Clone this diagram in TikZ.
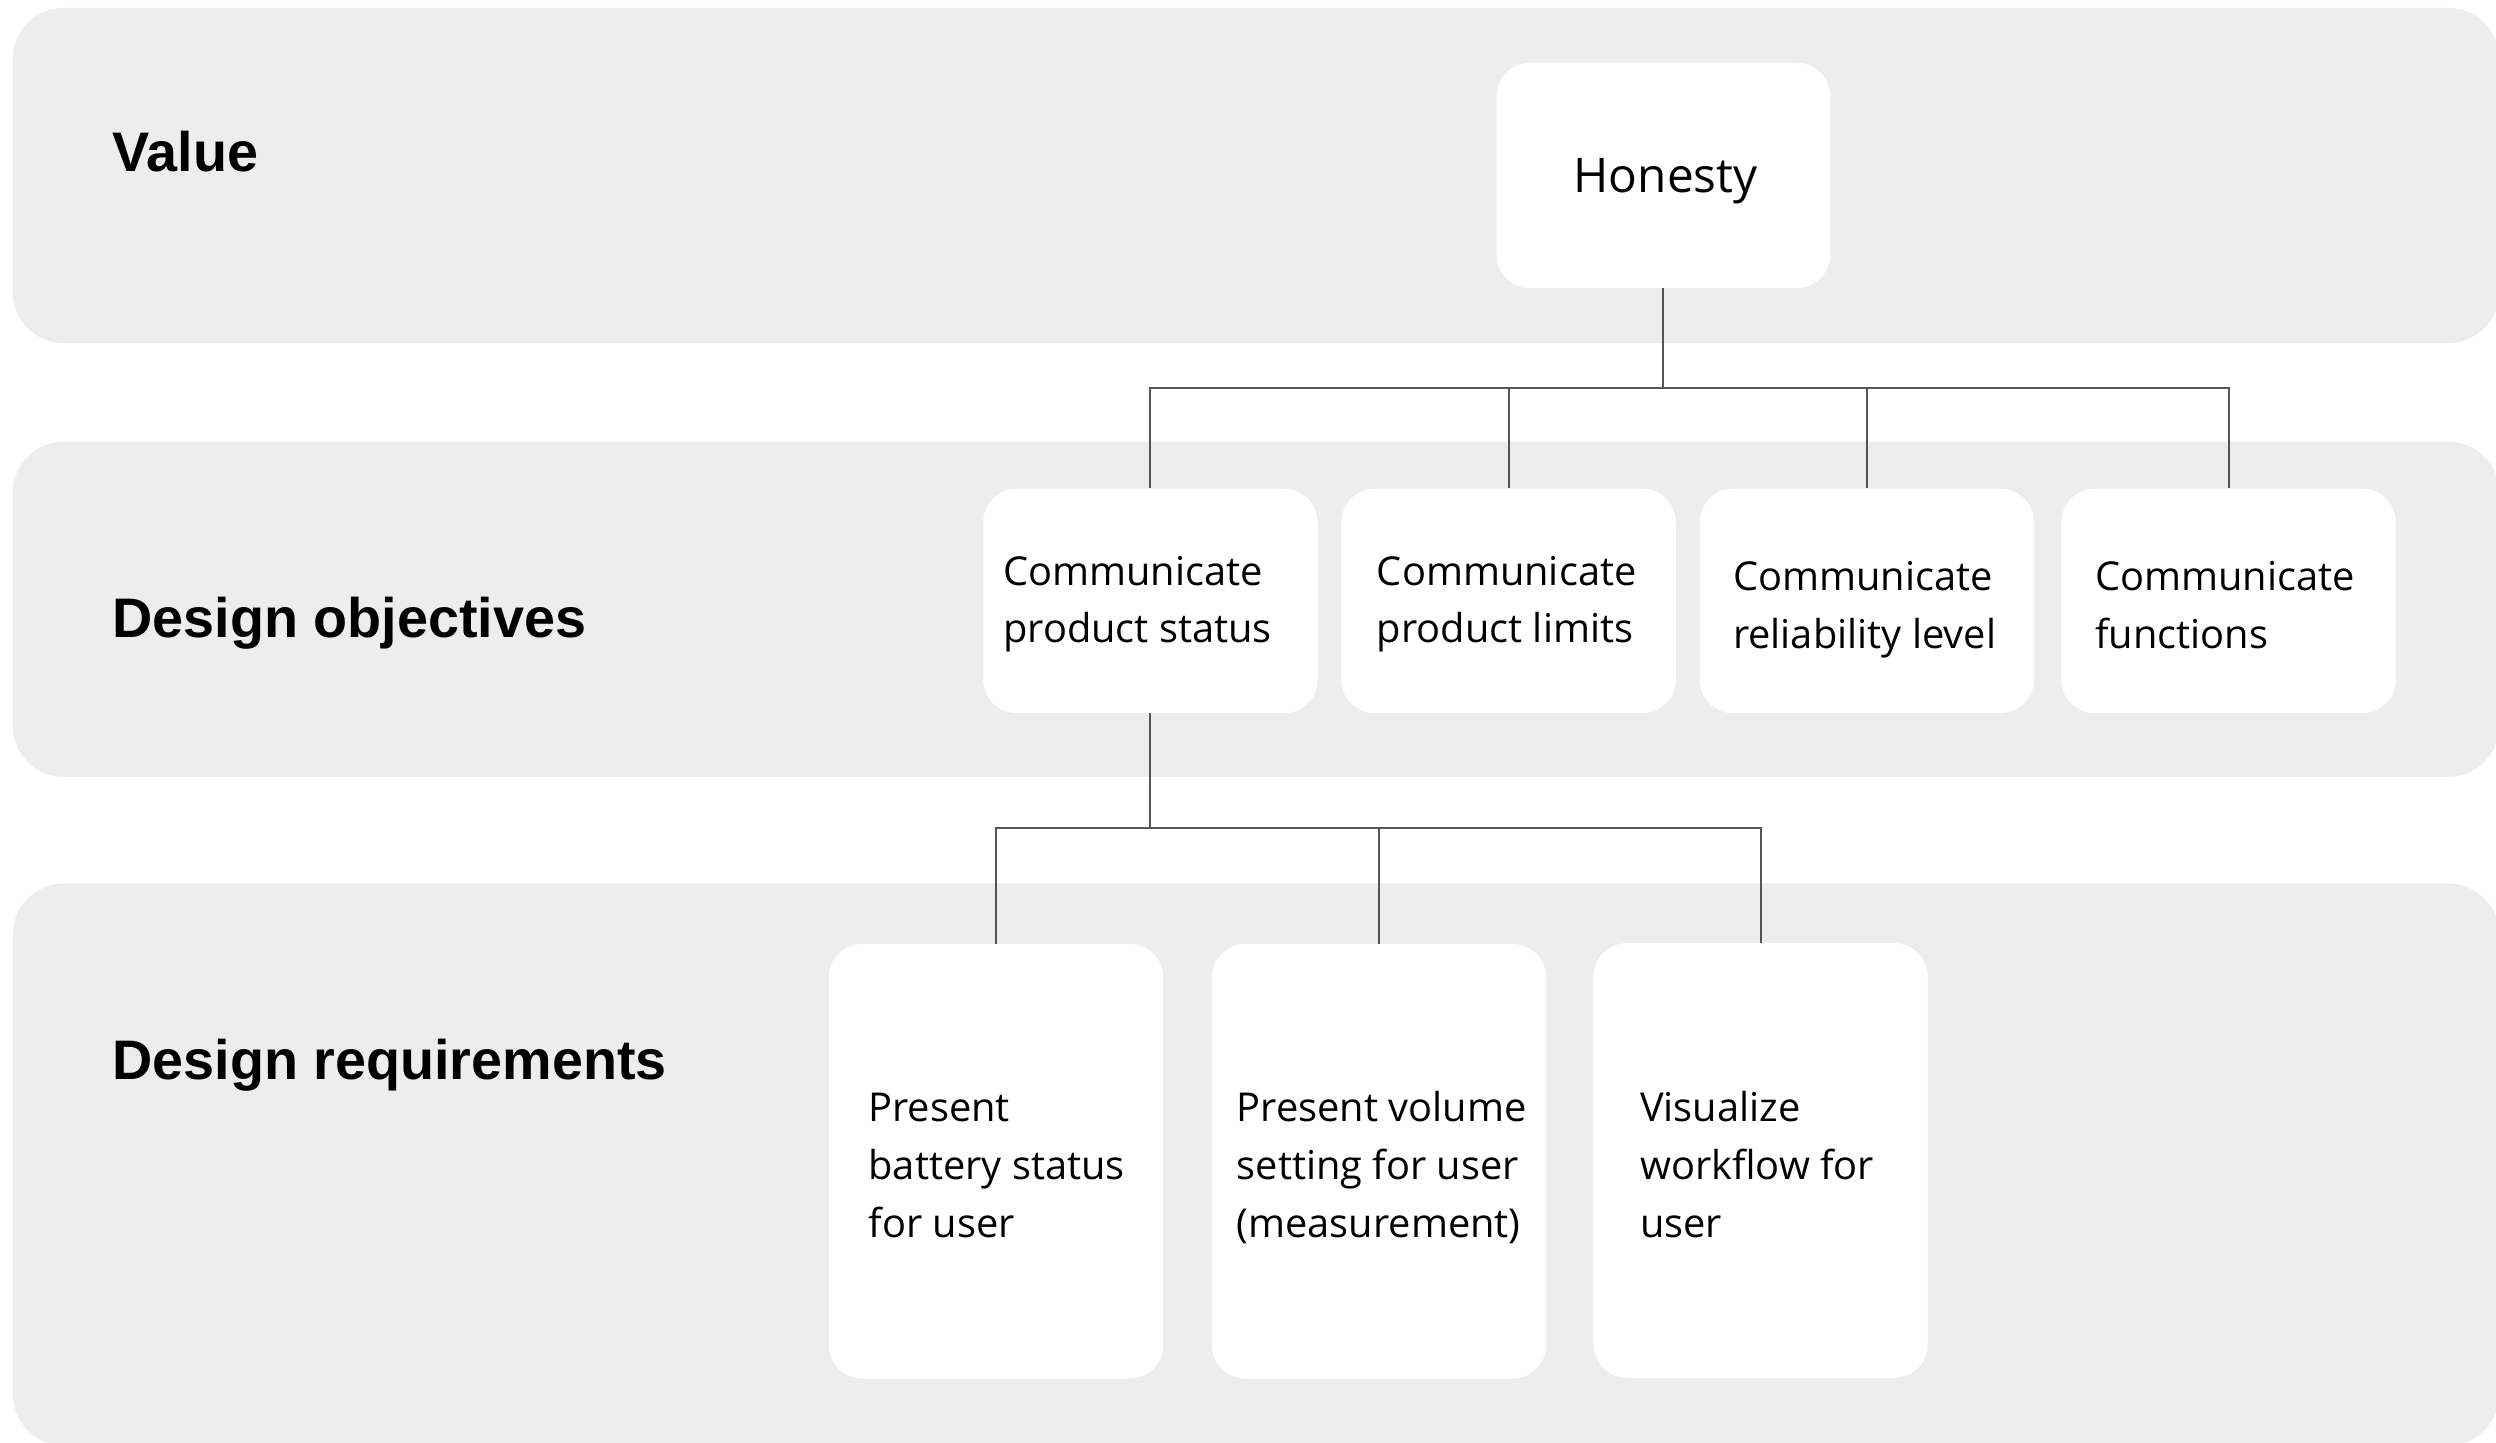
\documentclass[tikz,border=0pt]{standalone}
\usepackage{fontspec}
\setmainfont{Open Sans}
\newfontfamily\labelfont{Liberation Sans}
\usetikzlibrary{calc}
\definecolor{bandgray}{HTML}{EDEDED}
\definecolor{linegray}{HTML}{555555}
\tikzset{
  band/.style={fill=bandgray, draw=none, rounded corners=32pt},
  boxnode/.style={fill=white, draw=none, rounded corners=21pt, inner sep=0pt},
  objbox/.style={boxnode, minimum width=210pt, minimum height=141pt},
  reqbox/.style={boxnode, minimum width=210pt, minimum height=273pt},
  levellabel/.style={anchor=base west, inner sep=0pt, font=\labelfont\bfseries\fontsize{35}{40}\selectfont},
  boxtext/.style={anchor=base west, inner sep=0pt, align=left, font=\fontsize{25}{36.2}\selectfont},
  conn/.style={draw=linegray, line width=1.3pt}
}
\begin{document}
\begin{tikzpicture}[x=1pt, y=-1pt]
\useasboundingbox (0,0) rectangle (1568,906);
% bands
\path[band] (8,5) rectangle (1570,215.5);
\path[band] (8,277.5) rectangle (1570,488);
\path[band] (8,555) rectangle (1570,908);
% level labels
\node[levellabel] (lv) at (70.5,107.8) {Value};
\node[levellabel] (lo) at (70.5,400.7) {Design objectives};
\node[levellabel] (lr) at (70.5,678.2) {Design requirements};
% boxes
\node[boxnode, minimum width=209.5pt, minimum height=141.6pt] (hon) at (1044.9,110.2) {};
\node[objbox] (o1) at (722.7,377.5) {};
\node[objbox] (o2) at (947.7,377.5) {};
\node[objbox] (o3) at (1172.7,377.5) {};
\node[objbox] (o4) at (1400,377.5) {};
\node[reqbox] (r1) at (625.7,729.5) {};
\node[reqbox] (r2) at (866.3,729.5) {};
\node[reqbox] (r3) at (1106,729) {};
% texts (base anchor = baseline of last line)
\node[anchor=base west, inner sep=0pt, font=\fontsize{30}{36}\selectfont] (thon) at (988.4,121) {Honesty};
\node[boxtext] (to1) at (630,403.7) {Communicate\\product status};
\node[boxtext] (to2) at (864.8,403.7) {Communicate\\product limits};
\node[boxtext] (to3) at (1088.5,407.2) {Communicate\\reliability level};
\node[boxtext] (to4) at (1316,407.2) {Communicate\\functions};
\node[boxtext] (tr1) at (545.4,777.1) {Present\\battery status\\for user};
\node[boxtext] (tr2) at (776.7,777.1) {Present volume\\setting for user\\(measurement)};
\node[boxtext] (tr3) at (1030.2,777.1) {Visualize\\workflow for\\user};
% connectors
\path (hon.south) ++(0,62.5) coordinate (j1);
\draw[conn] (hon.south) -- (j1);
\draw[conn] (o1.north) |- (j1) -| (o4.north);
\draw[conn] (o2.north) -- (o2.north |- j1);
\draw[conn] (o3.north) -- (o3.north |- j1);
\path (o1.south) ++(0,72) coordinate (j2);
\draw[conn] (o1.south) -- (j2);
\draw[conn] (r1.north) |- (j2) -| (r3.north);
\draw[conn] (r2.north) -- (r2.north |- j2);
\end{tikzpicture}
\end{document}
